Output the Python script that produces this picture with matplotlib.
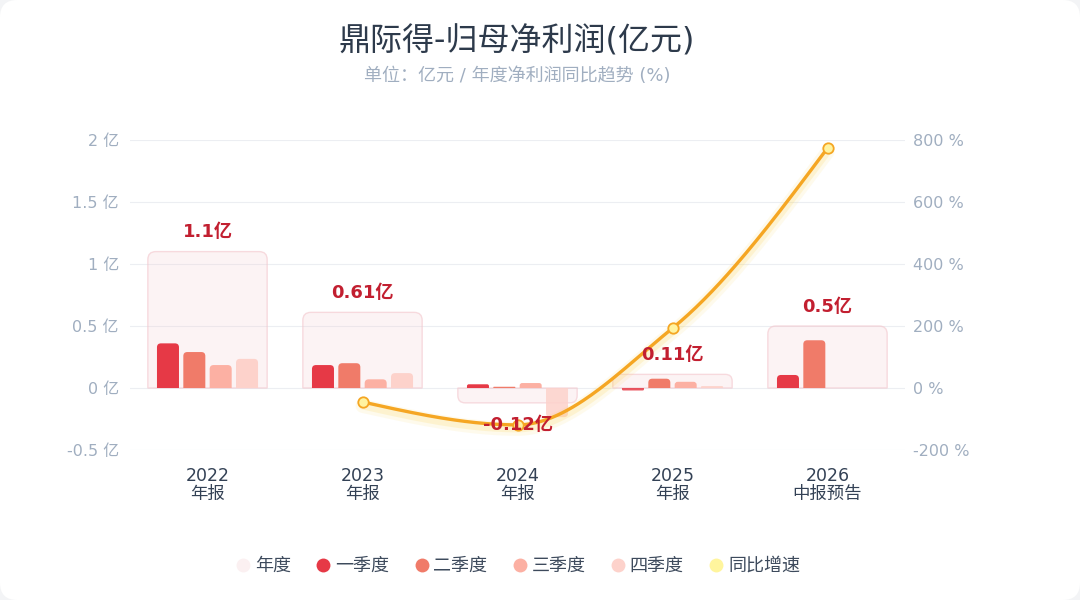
import numpy as np
import matplotlib.pyplot as plt
from matplotlib.patches import FancyBboxPatch, PathPatch
from matplotlib.path import Path
from matplotlib.lines import Line2D
import matplotlib.transforms as mtransforms

plt.rcParams['font.family'] = ['DejaVu Sans', 'Noto Sans CJK SC']

# 数据
years = ['2022', '2023', '2024', '2025', '2026']
periods = ['年报', '年报', '年报', '年报', '中报预告']
annual = [1.1, 0.61, -0.12, 0.11, 0.5]
q1 = [0.36, 0.185, 0.03, -0.02, 0.105]
q2 = [0.29, 0.20, 0.01, 0.075, 0.385]
q3 = [0.185, 0.07, 0.04, 0.05, None]
q4 = [0.235, 0.12, -0.235, 0.015, None]
yoy = [None, -45, -119, 193, 774]

quarters = [q1, q2, q3, q4]
q_names = ['一季度', '二季度', '三季度', '四季度']
q_colors = ['#e63946', '#f07b69', '#fcb0a3', '#fdd2cb']
line_color = '#f5a623'

W, H = 1080, 600
fig = plt.figure(figsize=(W / 100, H / 100), dpi=100)
fig.patch.set_facecolor('#f3f4f6')
card = FancyBboxPatch((0, 0), 1, 1, boxstyle='round,pad=0,rounding_size=0.016',
                      mutation_aspect=W / H, transform=fig.transFigure,
                      facecolor='white', edgecolor='none', zorder=-10)
fig.patches.append(card)

ax_l, ax_b, ax_w, ax_h = 130, 150, 775, 310
ax = fig.add_axes([ax_l / W, ax_b / H, ax_w / W, ax_h / H])
ax.patch.set_alpha(0)
ax.set_xlim(-0.5, 4.5)
ax.set_ylim(-0.5, 2)
px_x = ax_w / 5.0
px_y = ax_h / 2.5


def round_end_bar(xc, w, h, r_px):
    # 矩形, 远离基线的一端带圆角
    s = 1 if h >= 0 else -1
    r = min(r_px, w / 2 * px_x, abs(h) / 2 * px_y)
    rx, ry = r / px_x, r / px_y
    x0, x1 = xc - w / 2, xc + w / 2
    verts = [(x0, 0), (x0, h - s * ry), (x0, h), (x0 + rx, h),
             (x1 - rx, h), (x1, h), (x1, h - s * ry), (x1, 0), (x0, 0)]
    codes = [Path.MOVETO, Path.LINETO, Path.CURVE3, Path.CURVE3,
             Path.LINETO, Path.CURVE3, Path.CURVE3, Path.LINETO, Path.CLOSEPOLY]
    return Path(verts, codes)


x = np.arange(len(years))
box_w = 0.77
bar_w = 0.142
step = 0.17

for i in range(len(years)):
    p = PathPatch(round_end_bar(x[i], box_w, annual[i], 8),
                  facecolor=(0.953, 0.776, 0.80, 0.2),
                  edgecolor=(0.953, 0.776, 0.80, 0.6), lw=1, zorder=1)
    ax.add_patch(p)
    for k, q in enumerate(quarters):
        v = q[i]
        if v is None:
            continue
        bx = x[i] + (k - 1.5) * step
        ax.add_patch(PathPatch(round_end_bar(bx, bar_w, v, 4),
                               facecolor=q_colors[k], edgecolor='none',
                               alpha=0.85 if v < 0 else 1, zorder=2))

ax.set_yticks([-0.5, 0, 0.5, 1, 1.5, 2])
ax.set_yticklabels([f'{v:g} 亿' for v in [-0.5, 0, 0.5, 1, 1.5, 2]])
ax.set_xticks(x)
ax.set_xticklabels([f'{y}\n{p}' for y, p in zip(years, periods)], linespacing=1.0)
ax.tick_params(axis='y', length=0, pad=8, labelsize=11.5, labelcolor='#a0aec0')
ax.tick_params(axis='x', length=0, pad=12, labelsize=12.5, labelcolor='#334155')
ax.grid(axis='y', color='#eceef2', lw=0.8)
ax.set_axisbelow(True)
for sp in ax.spines.values():
    sp.set_visible(False)

ax2 = ax.twinx()
ax2.set_ylim(-200, 800)
ax2.set_yticks([-200, 0, 200, 400, 600, 800])
ax2.set_yticklabels([f'{v} %' for v in [-200, 0, 200, 400, 600, 800]])
ax2.tick_params(axis='y', length=0, pad=6, labelsize=11.5, labelcolor='#a0aec0')
for sp in ax2.spines.values():
    sp.set_visible(False)

# 平滑曲线 (单调三次插值, 仅用于绘制)
lx = np.array([x[i] for i in range(len(years)) if yoy[i] is not None], dtype=float)
ly = np.array([v for v in yoy if v is not None], dtype=float)
d = np.diff(ly) / np.diff(lx)
m = np.zeros_like(ly)
for j in range(1, len(ly) - 1):
    if d[j - 1] * d[j] > 0:
        m[j] = 2 / (1 / d[j - 1] + 1 / d[j])
m[0] = (3 * d[0] - m[1]) / 2
m[-1] = (3 * d[-1] - m[-2]) / 2
cx, cy = [], []
for j in range(len(ly) - 1):
    h = lx[j + 1] - lx[j]
    t = np.linspace(0, 1, 60)
    h00 = 2 * t**3 - 3 * t**2 + 1
    h10 = t**3 - 2 * t**2 + t
    h01 = -2 * t**3 + 3 * t**2
    h11 = t**3 - t**2
    cx.extend(lx[j] + t * h)
    cy.extend(h00 * ly[j] + h10 * h * m[j] + h01 * ly[j + 1] + h11 * h * m[j + 1])

shadow = mtransforms.offset_copy(ax2.transData, fig=fig, x=0, y=-4, units='dots')
ax2.plot(cx, cy, color='#fcd34d', lw=10, alpha=0.1, transform=shadow,
         solid_capstyle='round', zorder=2)
ax2.plot(cx, cy, color='#fcd34d', lw=5, alpha=0.18, transform=shadow,
         solid_capstyle='round', zorder=2)
ax2.plot(cx, cy, color=line_color, lw=2.4, zorder=3, solid_capstyle='round')
ax2.plot(lx, ly, 'o', ms=7.5, markerfacecolor='#fff3a0',
         markeredgecolor=line_color, markeredgewidth=1.3, zorder=4)

# 年度数值标签
for i in range(len(years)):
    v = annual[i]
    off = 14 if v >= 0 else -16
    ax2.annotate(f'{v:g}亿', (x[i], v), xycoords=ax.transData,
                 xytext=(0, off), textcoords='offset points',
                 ha='center', va='center', fontsize=13, fontweight='bold',
                 color='#c21f30', zorder=10)

cx_fig = 517 / W
fig.text(cx_fig, 1 - 42 / H, '鼎际得-归母净利润(亿元)', ha='center', va='center',
         fontsize=23, color='#2d3a4b')
fig.text(cx_fig, 1 - 76 / H, '单位：亿元 / 年度净利润同比趋势 (%)', ha='center',
         va='center', fontsize=13, color='#a0aec0')

handles = [Line2D([], [], ls='none', marker='o', ms=10, markerfacecolor='#fbf0f1',
                  markeredgecolor='none', label='年度')]
for name, c in zip(q_names, q_colors):
    handles.append(Line2D([], [], ls='none', marker='o', ms=10, markerfacecolor=c,
                          markeredgecolor='none', label=name))
handles.append(Line2D([], [], ls='none', marker='o', ms=10, markerfacecolor='#fff59d',
                      markeredgecolor='none', label='同比增速'))
leg = fig.legend(handles=handles, loc='center', bbox_to_anchor=(cx_fig, 1 - 566 / H),
                 ncol=6, frameon=False, fontsize=13, handletextpad=0.15,
                 columnspacing=1.3, handlelength=1.0)
for t in leg.get_texts():
    t.set_color('#3d4a5c')

fig.savefig('out.png', dpi=100, facecolor=fig.get_facecolor())
